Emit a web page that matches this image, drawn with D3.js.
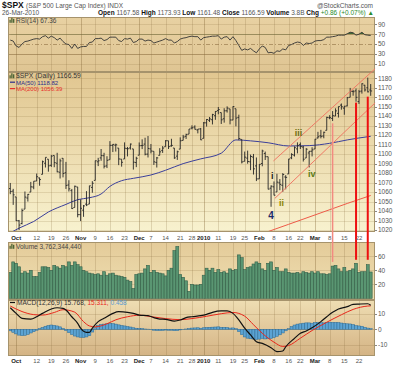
<!DOCTYPE html>
<html>
<head>
<meta charset="utf-8">
<script src="https://cdn.jsdelivr.net/npm/d3@7"></script>
<style>
  body { margin: 0; background: #fff; }
  svg { display: block; font-family: "Liberation Sans", Arial, sans-serif; }
</style>
</head>
<body>
<svg id="chart" width="400" height="365"></svg>
<script>
// ---- data ----
var dates = ["2009-09-29","2009-09-30",
  "2009-10-01","2009-10-02","2009-10-05","2009-10-06","2009-10-07","2009-10-08","2009-10-09","2009-10-12","2009-10-13","2009-10-14","2009-10-15","2009-10-16","2009-10-19","2009-10-20","2009-10-21","2009-10-22","2009-10-23","2009-10-26","2009-10-27","2009-10-28","2009-10-29","2009-10-30",
  "2009-11-02","2009-11-03","2009-11-04","2009-11-05","2009-11-06","2009-11-09","2009-11-10","2009-11-11","2009-11-12","2009-11-13","2009-11-16","2009-11-17","2009-11-18","2009-11-19","2009-11-20","2009-11-23","2009-11-24","2009-11-25","2009-11-27","2009-11-30",
  "2009-12-01","2009-12-02","2009-12-03","2009-12-04","2009-12-07","2009-12-08","2009-12-09","2009-12-10","2009-12-11","2009-12-14","2009-12-15","2009-12-16","2009-12-17","2009-12-18","2009-12-21","2009-12-22","2009-12-23","2009-12-24","2009-12-28","2009-12-29","2009-12-30","2009-12-31",
  "2010-01-04","2010-01-05","2010-01-06","2010-01-07","2010-01-08","2010-01-11","2010-01-12","2010-01-13","2010-01-14","2010-01-15","2010-01-19","2010-01-20","2010-01-21","2010-01-22","2010-01-25","2010-01-26","2010-01-27","2010-01-28","2010-01-29",
  "2010-02-01","2010-02-02","2010-02-03","2010-02-04","2010-02-05","2010-02-08","2010-02-09","2010-02-10","2010-02-11","2010-02-12","2010-02-16","2010-02-17","2010-02-18","2010-02-19","2010-02-22","2010-02-23","2010-02-24","2010-02-25","2010-02-26",
  "2010-03-01","2010-03-02","2010-03-03","2010-03-04","2010-03-05","2010-03-08","2010-03-09","2010-03-10","2010-03-11","2010-03-12","2010-03-15","2010-03-16","2010-03-17","2010-03-18","2010-03-19","2010-03-22","2010-03-23","2010-03-24","2010-03-25","2010-03-26"];

var opens = [1063.7,1061.0,
  1054.9,1029.7,1026.9,1042.0,1053.7,1060.0,1065.3,1071.6,1074.9,1078.7,1090.4,1094.7,1088.2,1098.6,1090.4,1080.9,1095.6,1080.4,1067.5,1061.5,1043.7,1065.4,
  1036.2,1040.9,1047.3,1047.3,1064.9,1072.3,1091.9,1096.0,1098.3,1087.6,1094.1,1109.2,1109.4,1106.4,1094.7,1094.9,1105.8,1106.5,1105.5,1091.1,
  1098.9,1109.0,1110.6,1100.0,1105.5,1103.0,1091.1,1098.7,1103.9,1107.8,1114.1,1108.6,1106.4,1097.9,1105.3,1114.5,1118.8,1121.1,1127.5,1128.6,1125.5,1126.6,
  1116.6,1133.0,1135.7,1136.3,1140.5,1145.9,1143.8,1137.3,1145.7,1147.7,1136.0,1147.9,1138.7,1115.5,1092.4,1095.8,1091.9,1096.9,1087.6,
  1073.9,1090.1,1100.7,1097.3,1064.1,1065.5,1060.1,1069.7,1067.1,1075.9,1079.1,1096.1,1099.0,1105.5,1110.0,1107.5,1095.9,1101.2,1103.1,
  1105.4,1117.0,1119.4,1119.1,1125.1,1138.4,1137.6,1140.2,1143.0,1151.7,1148.5,1150.8,1159.9,1166.1,1166.7,1155.4,1166.5,1172.7,1170.0,1167.6];
var highs = [1069.6,1063.4,
  1054.9,1030.6,1042.6,1060.6,1058.0,1070.7,1071.5,1079.5,1075.3,1093.2,1096.6,1094.7,1099.0,1098.6,1101.4,1095.2,1095.8,1091.8,1072.5,1063.3,1066.8,1065.4,
  1052.2,1046.4,1061.0,1066.7,1071.5,1093.2,1096.1,1105.4,1101.4,1097.8,1113.7,1110.6,1111.1,1106.4,1094.7,1112.4,1107.6,1111.2,1105.5,1097.2,
  1112.3,1115.6,1117.3,1119.1,1110.7,1103.0,1097.0,1106.3,1108.5,1114.8,1114.1,1116.2,1106.4,1103.7,1117.7,1120.3,1121.6,1126.5,1130.4,1130.4,1126.4,1127.6,
  1133.9,1137.0,1139.2,1142.5,1145.4,1149.7,1143.8,1148.4,1150.4,1147.8,1150.5,1147.9,1141.6,1115.5,1102.7,1103.7,1099.5,1100.2,1096.5,
  1089.4,1104.7,1102.7,1097.3,1067.1,1071.2,1079.3,1073.7,1080.0,1077.8,1095.0,1101.0,1108.2,1112.4,1112.3,1108.6,1106.4,1103.5,1107.2,
  1116.1,1123.5,1125.6,1123.7,1139.4,1141.1,1145.4,1148.3,1150.2,1153.4,1150.9,1160.3,1169.8,1167.8,1169.2,1167.8,1174.7,1173.0,1180.7,1173.9];
var lows = [1057.8,1046.5,
  1029.4,1020.0,1025.9,1042.0,1050.0,1060.0,1063.0,1071.6,1066.7,1078.7,1085.9,1081.5,1086.5,1086.2,1080.8,1074.3,1075.5,1063.3,1060.6,1042.2,1043.7,1033.4,
  1029.4,1033.9,1045.2,1047.3,1059.3,1072.3,1087.4,1093.0,1084.9,1085.3,1094.1,1102.2,1102.7,1088.4,1086.8,1094.9,1097.6,1104.8,1083.7,1086.3,
  1098.9,1105.3,1098.7,1096.5,1100.8,1088.6,1085.9,1098.7,1101.3,1107.8,1105.4,1107.9,1095.0,1093.9,1105.3,1114.5,1116.0,1121.1,1126.1,1126.0,1121.9,1114.8,
  1116.6,1129.0,1133.9,1131.3,1136.2,1142.0,1131.8,1133.2,1143.8,1131.4,1135.8,1129.3,1114.8,1090.2,1092.4,1089.9,1083.1,1078.5,1071.6,
  1073.9,1087.2,1093.8,1062.8,1044.5,1056.5,1060.1,1062.0,1060.1,1062.9,1079.1,1094.7,1097.5,1100.8,1105.4,1092.2,1095.9,1086.0,1097.6,
  1105.4,1116.5,1116.6,1116.7,1125.1,1136.8,1134.9,1140.1,1138.6,1146.9,1141.5,1150.4,1159.9,1161.6,1155.3,1152.9,1163.8,1166.0,1165.1,1161.5];
var closes = [1060.6,1057.1,
  1029.9,1025.2,1040.5,1054.7,1057.6,1065.5,1071.5,1076.2,1073.2,1092.0,1096.6,1087.7,1097.9,1091.1,1081.4,1092.9,1079.6,1067.0,1063.4,1042.6,1066.1,1036.2,
  1042.9,1045.4,1046.5,1066.6,1069.3,1093.1,1093.0,1098.5,1087.2,1093.5,1109.3,1110.3,1109.8,1094.9,1091.4,1106.2,1105.7,1110.6,1091.5,1095.6,
  1108.9,1109.2,1099.9,1106.0,1103.3,1091.9,1096.0,1102.4,1106.4,1114.1,1107.9,1109.2,1096.1,1102.5,1114.1,1118.0,1120.6,1126.5,1127.8,1126.2,1126.4,1115.1,
  1133.0,1136.5,1137.1,1141.7,1145.0,1147.0,1136.2,1145.7,1148.5,1136.0,1150.2,1138.0,1116.5,1091.8,1096.8,1092.2,1097.5,1084.5,1073.9,
  1089.2,1103.3,1097.3,1063.1,1066.2,1056.7,1070.5,1068.1,1078.5,1075.5,1094.9,1099.5,1106.8,1109.2,1108.0,1094.6,1105.2,1102.9,1104.5,
  1115.7,1118.3,1118.8,1123.0,1138.7,1138.5,1140.5,1145.6,1150.2,1150.0,1150.5,1159.5,1166.2,1165.8,1159.9,1165.8,1174.2,1167.7,1165.7,1166.59];

// volume in hundreds of millions
var volumes = [37,52,
  50,45,36,38,36,40,31,31,37,45,45,44,40,47,45,43,47,45,52,47,52,48,
  45,40,38,36,35,34,35,33,38,33,35,36,33,32,31,30,26,24,14,34,
  35,36,42,47,37,40,37,36,35,32,40,43,68,74,34,30,25,10,20,19,19,20,
  33,43,40,43,37,41,37,38,36,42,40,41,62,58,41,44,45,49,52,
  50,42,40,50,52,40,44,38,38,42,37,36,36,37,35,38,37,36,38,
  36,38,35,35,34,35,46,47,42,38,44,38,40,42,50,37,38,38,48,37.6];

var rsi = [58,56,46,43,50,55,56,58,60,61,60,65,67,62,66,63,58,62,55,50,49,41,50,41,
  44,45,45,53,54,61,61,62,57,59,64,64,64,57,55,61,60,62,53,55,
  60,60,56,58,57,52,54,56,58,61,58,58,52,55,60,62,63,65,66,65,65,58,
  63,64,65,66,66,67,60,64,65,58,65,57,47,37,40,38,41,36,32,
  40,46,43,32,33,31,36,35,40,38,47,49,52,54,53,47,52,51,52,
  56,57,57,59,64,64,65,66,68,68,68,71,74,73,68,70,74,69,68,67.36];

var macdHist = [-1.0,-2.0,-3.0,-3.8,-4.2,-4.0,-3.4,-2.4,-1.6,-0.6,0.4,1.2,2.0,2.5,2.8,2.6,2.2,1.6,0.6,-0.8,-2.2,-3.4,-4.4,-5.0,
  -5.2,-5.4,-5.0,-4.2,-1.8,1.0,2.6,3.2,3.4,3.6,3.8,3.7,3.4,2.9,2.5,2.2,1.8,1.5,1.0,0.7,
  0.6,0.5,0.2,0.1,-0.2,-0.6,-0.8,-0.8,-0.7,-0.5,-0.6,-0.6,-0.9,-0.8,-0.4,-0.1,0.2,0.5,0.8,0.9,1.0,0.7,
  1.0,1.2,1.3,1.4,1.5,1.6,1.3,1.3,1.2,0.8,0.9,0.4,-1.5,-3.5,-5.0,-5.8,-6.2,-6.4,-6.6,
  -6.4,-6.0,-6.3,-6.2,-6.0,-5.4,-4.6,-3.6,-2.4,-1.0,0.4,1.8,2.8,3.4,3.6,4.0,4.2,4.2,4.0,
  4.4,4.5,4.4,4.2,4.6,4.6,4.5,4.5,4.4,4.1,3.8,3.6,3.5,3.1,2.4,2.2,2.0,1.3,0.8,0.46];

// MACD and signal lines, sampled at bar positions
var macdIdx = [0,2,4,7,9,11,14,16,18,19,21,23,24,26,27,28,30,32,35,37,40,42,44,47,49,51,53,56,58,60,62,65,67,69,72,74,76,78,80,82,84,86,89,91,93,94,97,99,101,103,106,108,110,112,115,117,119,122,123];
var macdVal = [14.1,10.4,7.2,6.7,8.2,10.4,13.3,14.1,13.7,12.6,8.2,3.9,0.7,-2.0,-2.0,0.7,5.0,7.2,10.4,11.5,11.1,10.4,9.3,8.9,7.6,6.7,6.5,5.4,6.1,7.6,8.2,8.9,9.8,11.1,12.0,12.0,10.4,6.1,0.7,-3.7,-8.1,-9.2,-12.0,-14.6,-14.2,-11.4,-5.9,-2.6,-1.1,1.0,5.0,8.2,11.1,13.3,14.8,16.3,16.5,16.7,15.77];
var signalIdx = [0,4,8,11,15,18,22,25,27,29,33,36,40,44,49,53,58,62,67,72,76,80,83,86,90,93,95,99,103,108,113,117,122,123];
var signalVal = [15.2,11.6,9.6,9.3,11.0,12.8,11.2,5.0,2.2,1.6,3.6,6.2,8.2,9.2,8.0,7.0,6.3,7.0,8.5,10.2,11.0,8.6,3.0,-2.6,-8.4,-11.2,-10.6,-5.8,-0.8,4.6,9.5,13.0,15.2,15.31];

// moving averages, sampled
var ma50Idx = [0,3,8,13,19,23,27,31,34,38,42,48,53,59,65,72,77,82,88,95,102,109,115,123];
var ma50Val = [1017,1022,1029,1039,1047,1052,1054,1058,1066,1072,1074.5,1078,1083,1090,1095,1101,1115,1114,1112,1108.6,1109,1111.4,1115,1118.82];
var ma200Idx = [84,95,105,115,123];
var ma200Val = [1014,1026,1037,1048,1056.39];

// x axis
var tickDates = ["2009-10-01","2009-10-12","2009-10-19","2009-10-26","2009-11-02","2009-11-09","2009-11-16","2009-11-23",
  "2009-12-01","2009-12-07","2009-12-14","2009-12-21","2009-12-28","2010-01-04","2010-01-11","2010-01-19","2010-01-25",
  "2010-02-01","2010-02-08","2010-02-16","2010-02-22","2010-03-01","2010-03-08","2010-03-15","2010-03-22"];
var tickLabels = ["Oct","12","19","26","Nov","9","16","23","Dec","7","14","21","28","2010","11","19","25","Feb","8","16","22","Mar","8","15","22"];
var monthLabels = ["Oct","Nov","Dec","2010","Feb","Mar"];

// y axis labels
var priceTicks = [1020,1030,1040,1050,1060,1070,1080,1090,1100,1110,1120,1130,1140,1150,1160,1170,1180];
var rsiTicks = [10,30,50,70,90];
var volTicks = [20,40,60];
var macdTicks = [-10,0,10];

// annotations (bar index, price)
var waveLabels = ["i","ii","iii","iv","4"];
var waveIdx = [89.4,92.6,98.4,102.9,89];
var wavePrice = [1073.8,1045.3,1119.1,1075.9,1031.3];
var trendStart = [[89.8,1092.8],[90.3,1053.4]];
var trendEnd = [[124.5,1190],[124.5,1154]];
var markIdx = [110,118,122];
var markTopPrice = [1132.5,1154.3,1160.6];
var markBottomVol = [52,55,55];

// ---- drawing ----
var svg = d3.select("#chart");
var L = 8, R = 375;
var P = { rsi: [17, 72], main: [72, 232], vol: [242, 300], macd: [300, 356] };
var n = dates.length;

var x = d3.scaleLinear().domain([-0.78, 124.47]).range([L, R]);
var step = x(1) - x(0);
var yP = d3.scaleLinear().domain([1017.9, 1186.6]).range([P.main[1], P.main[0]]);
var yR = d3.scaleLinear().domain([-7.1, 105.1]).range([P.rsi[1], P.rsi[0]]);
var yV = d3.scaleLinear().domain([-2.4, 80.4]).range([P.vol[1], P.vol[0]]);
var yM = d3.scaleLinear().domain([-17.45, 19.15]).range([P.macd[1], P.macd[0]]);

var defs = svg.append("defs");
function grad(id, c0, c1) {
  var g = defs.append("linearGradient").attr("id", id)
    .attr("x1", 0).attr("y1", 0).attr("x2", 0).attr("y2", 1);
  g.append("stop").attr("offset", "0%").attr("stop-color", c0);
  g.append("stop").attr("offset", "100%").attr("stop-color", c1);
}
grad("gRsi", "#e8d1a2", "#dfc593");
grad("gMain", "#e1c690", "#f8f2cf");
grad("gVol", "#e4cb99", "#efe0b3");
grad("gMacd", "#efdeb3", "#d4b384");

function clip(id, k) {
  defs.append("clipPath").attr("id", id).append("rect")
    .attr("x", L).attr("y", P[k][0]).attr("width", R - L).attr("height", P[k][1] - P[k][0]);
}
clip("cMain", "main"); clip("cRsi", "rsi"); clip("cVol", "vol"); clip("cMacd", "macd");

var bgs = { rsi: "gRsi", main: "gMain", vol: "gVol", macd: "gMacd" };
Object.keys(P).forEach(function (k) {
  svg.append("rect").attr("x", L).attr("y", P[k][0]).attr("width", R - L)
    .attr("height", P[k][1] - P[k][0]).attr("fill", "url(#" + bgs[k] + ")");
});

var tickIdx = tickDates.map(function (d) { return dates.indexOf(d); });
function px(v) { return Math.round(v) + 0.5; }

// vertical grid
Object.keys(P).forEach(function (k) {
  svg.append("g").selectAll("line").data(tickIdx).enter().append("line")
    .attr("x1", function (d) { return px(x(d)); })
    .attr("x2", function (d) { return px(x(d)); })
    .attr("y1", P[k][0]).attr("y2", P[k][1])
    .attr("stroke", "#86683a")
    .attr("stroke-opacity", function (d, i) { return monthLabels.indexOf(tickLabels[i]) >= 0 ? 0.38 : 0.22; });
});

// horizontal grid
function hgrid(vals, scale, op) {
  svg.append("g").selectAll("line").data(vals).enter().append("line")
    .attr("x1", L).attr("x2", R)
    .attr("y1", function (d) { return px(scale(d)); })
    .attr("y2", function (d) { return px(scale(d)); })
    .attr("stroke", "#86683a").attr("stroke-opacity", op);
}
hgrid(priceTicks, yP, 0.18);
hgrid(volTicks, yV, 0.2);
hgrid([-10, 10], yM, 0.2);
hgrid([10, 90], yR, 0.18);
hgrid([30, 70], yR, 0.55);
svg.append("line").attr("x1", L).attr("x2", R).attr("y1", px(yR(50))).attr("y2", px(yR(50)))
  .attr("stroke", "#86683a").attr("stroke-opacity", 0.55).attr("stroke-dasharray", "4,2,1,2");
svg.append("line").attr("x1", L).attr("x2", R).attr("y1", px(yM(0))).attr("y2", px(yM(0)))
  .attr("stroke", "#86683a").attr("stroke-opacity", 0.35);

// RSI
var rsiArea = d3.area().x(function (d, i) { return x(i); }).y0(yR(70)).y1(function (d) { return yR(d); });
defs.append("clipPath").attr("id", "cAbove70").append("rect")
  .attr("x", L).attr("y", P.rsi[0]).attr("width", R - L).attr("height", yR(70) - P.rsi[0]);
svg.append("path").datum(rsi).attr("clip-path", "url(#cAbove70)")
  .attr("d", rsiArea).attr("fill", "#3f6b35");
svg.append("path").datum(rsi).attr("clip-path", "url(#cRsi)")
  .attr("d", d3.line().x(function (d, i) { return x(i); }).y(function (d) { return yR(d); }))
  .attr("fill", "none").attr("stroke", "#333").attr("stroke-width", 0.9);

// moving averages
var gMain = svg.append("g").attr("clip-path", "url(#cMain)");
gMain.append("path").datum(ma200Idx)
  .attr("d", d3.line().x(function (d) { return x(d); }).y(function (d, i) { return yP(ma200Val[i]); }))
  .attr("fill", "none").attr("stroke", "#ee5a48").attr("stroke-width", 1);
gMain.append("path").datum(ma50Idx)
  .attr("d", d3.line().curve(d3.curveMonotoneX).x(function (d) { return x(d); }).y(function (d, i) { return yP(ma50Val[i]); }))
  .attr("fill", "none").attr("stroke", "#3b3f9a").attr("stroke-width", 1);

// OHLC bars
var bar = gMain.selectAll("g.bar").data(d3.range(n)).enter().append("g")
  .attr("stroke", "#262626").attr("stroke-width", 0.9);
bar.append("line")
  .attr("x1", function (i) { return x(i); }).attr("x2", function (i) { return x(i); })
  .attr("y1", function (i) { return yP(highs[i]); }).attr("y2", function (i) { return yP(lows[i]); });
bar.append("line")
  .attr("x1", function (i) { return x(i) - 1.4; }).attr("x2", function (i) { return x(i); })
  .attr("y1", function (i) { return yP(opens[i]); }).attr("y2", function (i) { return yP(opens[i]); });
bar.append("line")
  .attr("x1", function (i) { return x(i); }).attr("x2", function (i) { return x(i) + 1.4; })
  .attr("y1", function (i) { return yP(closes[i]); }).attr("y2", function (i) { return yP(closes[i]); });

// volume
svg.append("g").attr("clip-path", "url(#cVol)").selectAll("rect").data(volumes).enter().append("rect")
  .attr("x", function (d, i) { return x(i) - step / 2; })
  .attr("width", step)
  .attr("y", function (d) { return yV(d); })
  .attr("height", function (d) { return yV(0) - yV(d); })
  .attr("fill", "#5a9672").attr("stroke", "#34604a").attr("stroke-width", 0.6);

// MACD
var gMacd = svg.append("g").attr("clip-path", "url(#cMacd)");
gMacd.selectAll("rect").data(macdHist).enter().append("rect")
  .attr("x", function (d, i) { return x(i) - step / 2; })
  .attr("width", step)
  .attr("y", function (d) { return Math.min(yM(d), yM(0)); })
  .attr("height", function (d) { return Math.abs(yM(d) - yM(0)); })
  .attr("fill", "#5ba3d3").attr("stroke", "#2f6c96").attr("stroke-width", 0.5);
gMacd.append("path").datum(signalIdx)
  .attr("d", d3.line().curve(d3.curveMonotoneX).x(function (d) { return x(d); }).y(function (d, i) { return yM(signalVal[i]); }))
  .attr("fill", "none").attr("stroke", "#e8281c").attr("stroke-width", 1);
gMacd.append("path").datum(macdIdx)
  .attr("d", d3.line().curve(d3.curveMonotoneX).x(function (d) { return x(d); }).y(function (d, i) { return yM(macdVal[i]); }))
  .attr("fill", "none").attr("stroke", "#111").attr("stroke-width", 1.2);

// panel borders
Object.keys(P).forEach(function (k) {
  svg.append("rect").attr("x", L + 0.5).attr("y", P[k][0] + 0.5).attr("width", R - L - 1)
    .attr("height", P[k][1] - P[k][0] - 1).attr("fill", "none").attr("stroke", "#a6936c");
});

// trend lines and markers
trendStart.forEach(function (s, j) {
  svg.append("line")
    .attr("x1", x(s[0])).attr("y1", yP(s[1]))
    .attr("x2", x(trendEnd[j][0])).attr("y2", yP(trendEnd[j][1]))
    .attr("stroke", "#f07a66").attr("stroke-width", 1);
});
var markColor = ["#f28a80", "#ee1010", "#ee1010"];
var markWidth = [1.5, 2, 2];
markIdx.forEach(function (m, j) {
  svg.append("line")
    .attr("x1", x(m)).attr("x2", x(m))
    .attr("y1", yP(markTopPrice[j])).attr("y2", yV(markBottomVol[j]))
    .attr("stroke", markColor[j]).attr("stroke-width", markWidth[j]);
});

// wave labels
var waveColor = ["#1a1a1a", "#8a8200", "#6e6e10", "#5a7a14", "#1c2a6a"];
waveLabels.forEach(function (t, j) {
  svg.append("text").attr("x", x(waveIdx[j])).attr("y", yP(wavePrice[j]))
    .attr("text-anchor", "middle").attr("font-weight", "bold")
    .attr("font-size", t === "4" ? "10px" : "9px")
    .attr("fill", waveColor[j]).text(t);
});

// right axis labels
function yLabels(vals, scale) {
  var g = svg.append("g").attr("font-size", "6.5px").attr("fill", "#555");
  vals.forEach(function (v) {
    g.append("line").attr("x1", R).attr("x2", R + 2).attr("y1", px(scale(v))).attr("y2", px(scale(v)))
      .attr("stroke", "#888");
    g.append("text").attr("x", R + 3).attr("y", scale(v) + 2.3).text(v);
  });
}
yLabels(rsiTicks, yR);
yLabels(priceTicks, yP);
yLabels(volTicks, yV);
yLabels(macdTicks, yM);

// date labels
[239.5, 362.5].forEach(function (yy) {
  svg.append("g").selectAll("text").data(tickIdx).enter().append("text")
    .attr("x", function (d) { return x(d); }).attr("y", yy)
    .attr("text-anchor", "middle")
    .attr("font-size", "6px")
    .attr("font-weight", function (d, i) { return monthLabels.indexOf(tickLabels[i]) >= 0 ? "bold" : "normal"; })
    .attr("fill", function (d, i) { return monthLabels.indexOf(tickLabels[i]) >= 0 ? "#222" : "#555"; })
    .text(function (d, i) { return tickLabels[i]; });
});

// header
var hdr = svg.append("g").attr("font-size", "6.5px").attr("fill", "#555");
hdr.append("text").attr("x", 2).attr("y", 8).attr("font-size", "8.5px").attr("font-weight", "bold").attr("fill", "#111").text("$SPX");
hdr.append("text").attr("x", 26).attr("y", 8).text("(S&P 500 Large Cap Index) INDX");
hdr.append("text").attr("x", 373).attr("y", 8).attr("text-anchor", "end").text("@StockCharts.com");
hdr.append("text").attr("x", 2).attr("y", 15).text("26-Mar-2010");
var q = hdr.append("text").attr("x", 98).attr("y", 15);
var quote = [["Open", "1167.58"], ["High", "1173.93"], ["Low", "1161.48"], ["Close", "1166.59"], ["Volume", "3.8B"]];
quote.forEach(function (p) {
  q.append("tspan").attr("font-weight", "bold").attr("fill", "#111").text(p[0] + " ");
  q.append("tspan").text(p[1] + " ");
});
q.append("tspan").attr("font-weight", "bold").attr("fill", "#111").text("Chg ");
q.append("tspan").attr("fill", "#2a8a2a").text("+0.86 (+0.07%) \u25B2");

// legends
function icon(x0, y0) {
  svg.append("rect").attr("x", x0).attr("y", y0 + 2).attr("width", 1.2).attr("height", 3).attr("fill", "#3c5a2c");
  svg.append("rect").attr("x", x0 + 1.8).attr("y", y0).attr("width", 1.2).attr("height", 5).attr("fill", "#3c5a2c");
  svg.append("rect").attr("x", x0 + 3.6).attr("y", y0 + 1).attr("width", 1.2).attr("height", 4).attr("fill", "#3c5a2c");
}
icon(9.5, 17.8);
svg.append("text").attr("x", 16).attr("y", 22.8).attr("font-size", "6.5px").attr("fill", "#444").text("RSI(14) 67.36");

icon(9.5, 73.3);
svg.append("text").attr("x", 16).attr("y", 78.3).attr("font-size", "6.8px").attr("fill", "#333").text("$SPX (Daily) 1166.59");
svg.append("line").attr("x1", 10).attr("x2", 15).attr("y1", 82.2).attr("y2", 82.2).attr("stroke", "#2b2f8a").attr("stroke-width", 1.2);
svg.append("text").attr("x", 16).attr("y", 84.5).attr("font-size", "6px").attr("fill", "#2b2f8a").text("MA(50) 1118.82");
svg.append("line").attr("x1", 10).attr("x2", 15).attr("y1", 88.6).attr("y2", 88.6).attr("stroke", "#e8302a").attr("stroke-width", 1.2);
svg.append("text").attr("x", 16).attr("y", 90.9).attr("font-size", "6px").attr("fill", "#e8302a").text("MA(200) 1056.39");

icon(9.5, 243.8);
svg.append("text").attr("x", 16).attr("y", 248.8).attr("font-size", "6.5px").attr("fill", "#444").text("Volume 3,762,344,440");

svg.append("line").attr("x1", 10).attr("x2", 15).attr("y1", 302.5).attr("y2", 302.5).attr("stroke", "#111").attr("stroke-width", 1.2);
var mt = svg.append("text").attr("x", 17).attr("y", 304.8).attr("font-size", "6.5px");
mt.append("tspan").attr("fill", "#333").text("MACD(12,26,9) 15.768, ");
mt.append("tspan").attr("fill", "#e8281c").text("15.311, ");
mt.append("tspan").attr("fill", "#5a9ad0").text("0.458");
</script>
</body>
</html>
